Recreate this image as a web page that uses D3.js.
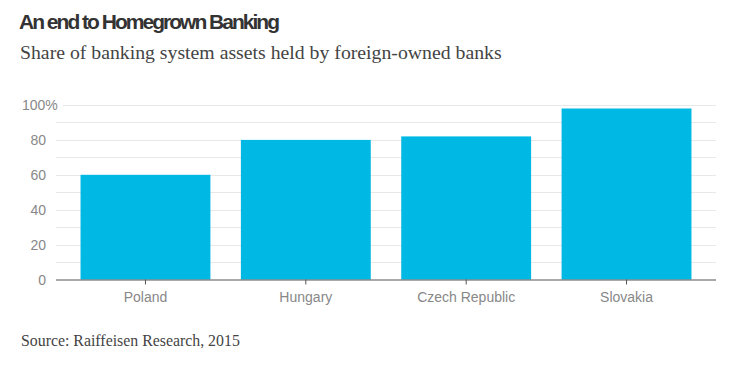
<!DOCTYPE html>
<html><head><meta charset="utf-8">
<script src="https://cdn.jsdelivr.net/npm/d3@7"></script>
<style>body{margin:0;background:#fff}svg{display:block}</style>
</head><body><svg id="c" width="742" height="366"></svg>
<script>
const categories = ["Poland", "Hungary", "Czech Republic", "Slovakia"];
const values = [60, 80, 82, 98];
const yTicks = [0, 20, 40, 60, 80, 100];
const gridTicks = [10, 20, 30, 40, 50, 60, 70, 80, 90, 100];
const title = "An end to Homegrown Banking";
const subtitle = "Share of banking system assets held by foreign-owned banks";
const source = "Source: Raiffeisen Research, 2015";

const svg = d3.select("#c");
const mLeft = 56, mRight = 716, mTop = 105, mBottom = 279.5;
const x = d3.scaleBand().domain(categories).range([mLeft, mRight]).paddingInner(0.19).paddingOuter(0.153);
const y = d3.scaleLinear().domain([0, 100]).range([mBottom, mTop]);

function fitSpacing(sel, target) {
  const n = sel.text().length;
  const w = sel.node().getComputedTextLength();
  const cur = parseFloat(sel.attr("letter-spacing") || 0);
  sel.attr("letter-spacing", (cur + (target - w) / n) + "px");
}
function fitSize(sel, target) {
  const w = sel.node().getComputedTextLength();
  const fs = parseFloat(sel.attr("font-size"));
  sel.attr("font-size", fs * target / w);
}

const tt = svg.append("text").attr("x", 19).attr("y", 29).text(title)
  .attr("font-family", "'Liberation Sans', Arial, sans-serif").attr("font-weight", 700)
  .attr("font-size", 21).attr("letter-spacing", "0px").attr("fill", "#333");
fitSpacing(tt, 259);
const st = svg.append("text").attr("x", 20).attr("y", 59).text(subtitle)
  .attr("font-family", "'Liberation Serif', 'Times New Roman', serif").attr("font-size", 20).attr("fill", "#444");
fitSize(st, 482);

svg.append("g").selectAll("line").data(gridTicks).join("line")
  .attr("x1", d => d === 100 ? 63 : mLeft).attr("x2", mRight)
  .attr("y1", d => Math.round(y(d)) + 0.5).attr("y2", d => Math.round(y(d)) + 0.5)
  .attr("stroke", "#e8e8e8").attr("stroke-width", 1);

svg.append("g").selectAll("rect").data(categories).join("rect")
  .attr("x", d => x(d)).attr("width", x.bandwidth())
  .attr("y", (d, i) => y(values[i])).attr("height", (d, i) => mBottom - y(values[i]))
  .attr("fill", "#00b8e4");

const yl = svg.append("g").selectAll("text").data(yTicks).join("text")
  .attr("x", 46).attr("y", d => y(d) + 5).attr("text-anchor", "end")
  .attr("font-family", "'Liberation Sans', Arial, sans-serif").attr("font-size", 14).attr("fill", "#888");
yl.each(function(d) {
  const t = d3.select(this);
  t.append("tspan").text(d);
  if (d === 100) t.append("tspan").text("%");
});
yl.filter(d => d === 100).attr("text-anchor", "start").attr("x", 22);

const xAxis = d3.axisBottom(x).tickSize(5).tickSizeOuter(0).tickPadding(8);
const gx = svg.append("g").attr("transform", `translate(0,${mBottom})`).call(xAxis);
gx.select(".domain").attr("stroke", "#555").attr("d", `M${mLeft},0.5H${mRight}`);
gx.selectAll(".tick line").attr("stroke", "#555");
gx.selectAll(".tick text").attr("font-family", "'Liberation Sans', Arial, sans-serif")
  .attr("font-size", 14).attr("fill", "#888");

const so = svg.append("text").attr("x", 21).attr("y", 346).text(source)
  .attr("font-family", "'Liberation Serif', 'Times New Roman', serif").attr("font-size", 16).attr("fill", "#444");
fitSize(so, 219);
</script></body></html>
